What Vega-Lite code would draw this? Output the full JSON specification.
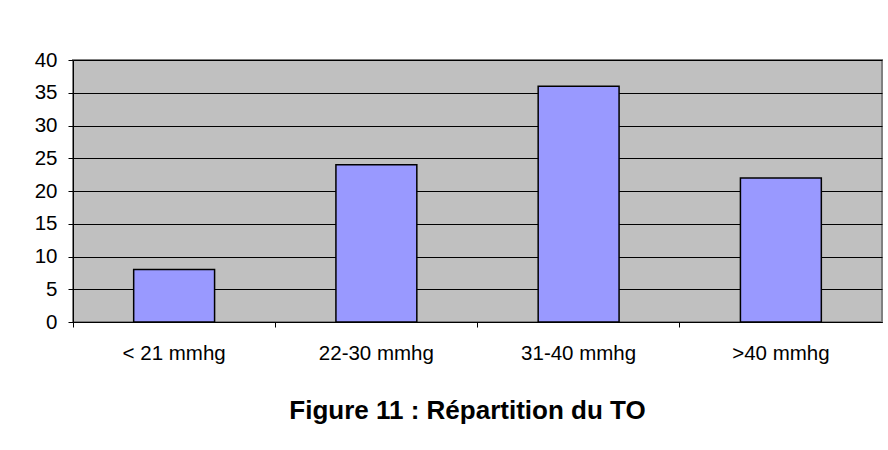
{
  "$schema": "https://vega.github.io/schema/vega-lite/v6.json",
  "autosize": "none",
  "width": 809,
  "height": 262,
  "padding": {"left": 73, "top": 60, "right": 6, "bottom": 128},
  "background": "white",
  "data": {"values": [
    {"cat": "< 21 mmhg", "n": 8},
    {"cat": "22-30 mmhg", "n": 24},
    {"cat": "31-40 mmhg", "n": 36},
    {"cat": ">40 mmhg", "n": 22}
  ]},
  "mark": {"type": "bar", "width": {"band": 0.4}, "fill": "#9999FF", "stroke": "#000000", "strokeWidth": 1.5},
  "encoding": {
    "x": {
      "field": "cat", "type": "nominal", "sort": null,
      "scale": {"paddingInner": 0, "paddingOuter": 0},
      "axis": {
        "title": "Figure 11 : Répartition du TO",
        "titleFont": "Liberation Sans", "titleFontSize": 26, "titleFontWeight": "bold", "titleColor": "#000",
        "titleX": 394, "titleY": 88, "titleBaseline": "middle", "titleAnchor": "middle", "titleAlign": "center",
        "labelAngle": 0, "labelFont": "Liberation Sans", "labelFontSize": 20.5, "labelColor": "#000",
        "labelPadding": 16, "bandPosition": 0, "tickSize": 5, "tickColor": "#000", "domainColor": "#000",
        "grid": false
      }
    },
    "y": {
      "field": "n", "type": "quantitative",
      "scale": {"domain": [0, 40], "nice": false},
      "axis": {
        "title": null, "values": [0, 5, 10, 15, 20, 25, 30, 35, 40],
        "labelFont": "Liberation Sans", "labelFontSize": 20.5, "labelColor": "#000",
        "labelPadding": 11, "tickSize": 5, "tickColor": "#000", "domainColor": "#000",
        "grid": true, "gridColor": "#000", "gridOpacity": 1, "gridWidth": 1
      }
    }
  },
  "config": {
    "view": {"fill": "#C0C0C0", "stroke": "#808080", "strokeWidth": 2}
  }
}
